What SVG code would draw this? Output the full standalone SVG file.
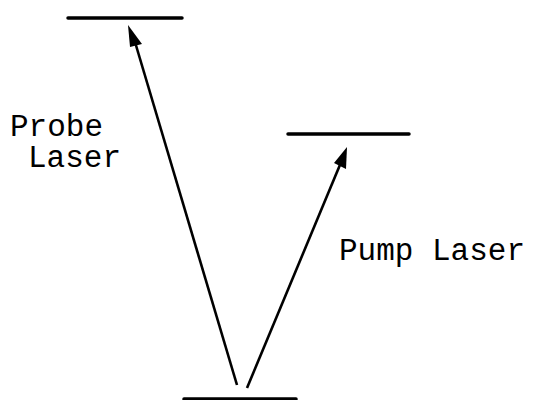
<svg xmlns="http://www.w3.org/2000/svg" width="533" height="400" viewBox="0 0 533 400">
<style>
.lvl{stroke:#000;stroke-width:3.5;stroke-linecap:round}
.ar{stroke:#000;stroke-width:2.6;fill:none}
.hd{fill:#000}
.t{font-family:"Liberation Mono",monospace;font-size:31px;fill:#000}
</style>
<rect width="533" height="400" fill="#fff"/>
<g id="level-top"><line class="lvl" x1="68" y1="18" x2="182" y2="18"/></g>
<g id="level-mid"><line class="lvl" x1="288" y1="134" x2="409" y2="134"/></g>
<g id="level-bottom"><line class="lvl" x1="184" y1="399" x2="296" y2="399"/></g>
<g id="label-probe"><text class="t" x="10" y="136">Probe</text><text class="t" x="28" y="167">Laser</text></g>
<g id="label-pump"><text class="t" x="339" y="260">Pump Laser</text></g>
<g id="connectors">
<line class="ar" x1="237" y1="385" x2="135" y2="42"/>
<polygon class="hd" points="128,25 142,44 130,47"/>
<line class="ar" x1="247" y1="388" x2="342" y2="160"/>
<polygon class="hd" points="347,147 346,169 334,163"/>
</g>
</svg>
